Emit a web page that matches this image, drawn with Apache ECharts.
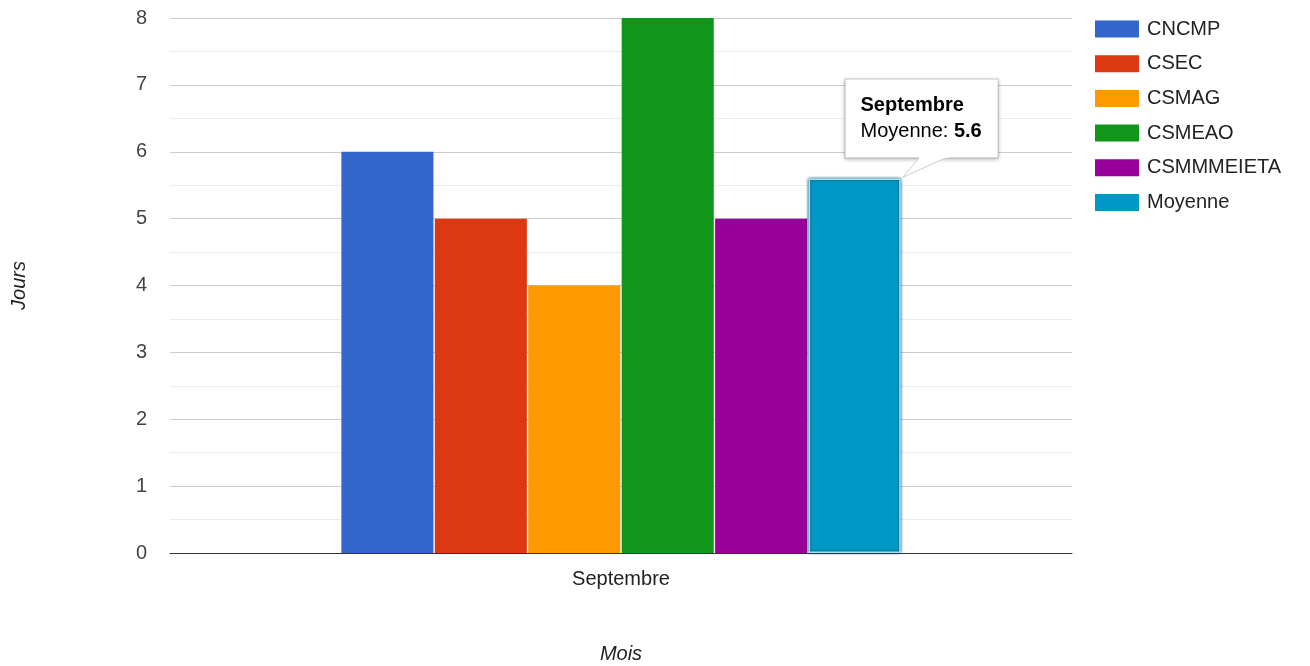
<!DOCTYPE html>
<html>
<head>
<meta charset="utf-8">
<script src="https://cdn.jsdelivr.net/npm/echarts@6/dist/echarts.min.js"></script>
<style>html,body{margin:0;padding:0;background:#fff}#c{width:1310px;height:666px}</style>
</head>
<body>
<div id="c"></div>
<script>
var categories = ['Septembre'];
var seriesNames = ['CNCMP', 'CSEC', 'CSMAG', 'CSMEAO', 'CSMMMEIETA', 'Moyenne'];
var seriesValues = [[6], [5], [4], [8], [5], [5.6]];
var colors = ['#3366cc', '#dc3912', '#ff9900', '#109618', '#990099', '#0099c6'];
var yTicks = [0, 1, 2, 3, 4, 5, 6, 7, 8];

var FONT = 'Liberation Sans, Arial, sans-serif';
var FS = 20;
var chart = echarts.init(document.getElementById('c'));

var series = seriesNames.map(function (n, i) {
  var s = {
    name: n,
    type: 'bar',
    data: seriesValues[i],
    barGap: '1.5%',
    barCategoryGap: '38%',
    itemStyle: { color: colors[i] },
    emphasis: { disabled: true }
  };
  if (n === 'Moyenne') {
    s.itemStyle = { color: colors[i], borderColor: '#a8e0f2', borderWidth: 1.5, shadowColor: 'rgba(0,80,110,1)', shadowBlur: 3 };
    s.label = {
      show: true,
      position: 'top',
      distance: 21,
      offset: [67, 0],
      backgroundColor: '#fff',
      borderColor: '#cccccc',
      borderWidth: 1,
      shadowColor: 'rgba(0,0,0,0.2)',
      shadowBlur: 4,
      shadowOffsetY: 1,
      padding: [13, 16, 13, 15],
      formatter: function (p) {
        return '{t|' + categories[p.dataIndex] + '}\n{k|' + n + ': }{v|' + p.value + '}';
      },
      rich: {
        t: { fontFamily: FONT, fontSize: FS, fontWeight: 'bold', color: '#000', lineHeight: 26, align: 'left' },
        k: { fontFamily: FONT, fontSize: FS, color: '#000', lineHeight: 26, align: 'left' },
        v: { fontFamily: FONT, fontSize: FS, fontWeight: 'bold', color: '#000', lineHeight: 26, align: 'left' }
      }
    };
  }
  return s;
});

chart.setOption({
  animation: false,
  textStyle: { fontFamily: FONT },
  grid: { left: 170, right: 238, top: 18, bottom: 113, containLabel: false, outerBoundsMode: 'none' },
  legend: {
    orient: 'vertical',
    left: 1095,
    top: 18,
    padding: 0,
    itemWidth: 44,
    itemHeight: 17,
    itemGap: 12.7,
    icon: 'rect',
    itemStyle: { borderWidth: 0, shadowBlur: 0 },
    textStyle: { fontFamily: FONT, fontSize: FS, color: '#222', padding: [0, 0, 0, 3], lineHeight: 22 },
    data: seriesNames
  },
  xAxis: {
    type: 'category',
    data: categories,
    name: 'Mois',
    nameLocation: 'middle',
    nameGap: 91,
    nameTextStyle: { fontFamily: FONT, fontSize: FS, fontStyle: 'italic', color: '#222' },
    axisTick: { show: false },
    axisLine: { lineStyle: { color: '#333', width: 1 } },
    axisLabel: { fontFamily: FONT, fontSize: FS, color: '#222', margin: 16 }
  },
  yAxis: {
    type: 'value',
    min: yTicks[0],
    max: yTicks[yTicks.length - 1],
    interval: 1,
    name: 'Jours',
    nameLocation: 'middle',
    nameGap: 141,
    nameTextStyle: { fontFamily: FONT, fontSize: FS, fontStyle: 'italic', color: '#222' },
    axisLine: { show: false },
    axisTick: { show: false },
    axisLabel: { fontFamily: FONT, fontSize: FS, color: '#444', margin: 23 },
    splitLine: { lineStyle: { color: '#cccccc', width: 1 } },
    minorTick: { show: false, splitNumber: 2 },
    minorSplitLine: { show: true, lineStyle: { color: '#ebebeb', width: 1 } }
  },
  series: series
});

// callout tail for the annotation box
var lay = chart.getModel().getSeriesByIndex(5).getData().getItemLayout(0);
var tx = lay.x + lay.width;
var ty = Math.min(lay.y, lay.y + lay.height);
chart.setOption({
  graphic: [{
    type: 'polygon',
    z: 100,
    shape: { points: [[tx + 2, ty - 1], [tx + 19, ty - 21], [tx + 46, ty - 21]] },
    style: { fill: '#fff', stroke: '#cccccc', lineWidth: 1 }
  }, {
    type: 'rect',
    z: 101,
    shape: { x: tx + 18, y: ty - 23, width: 30, height: 2.5 },
    style: { fill: '#fff' }
  }]
});
</script>
</body>
</html>
